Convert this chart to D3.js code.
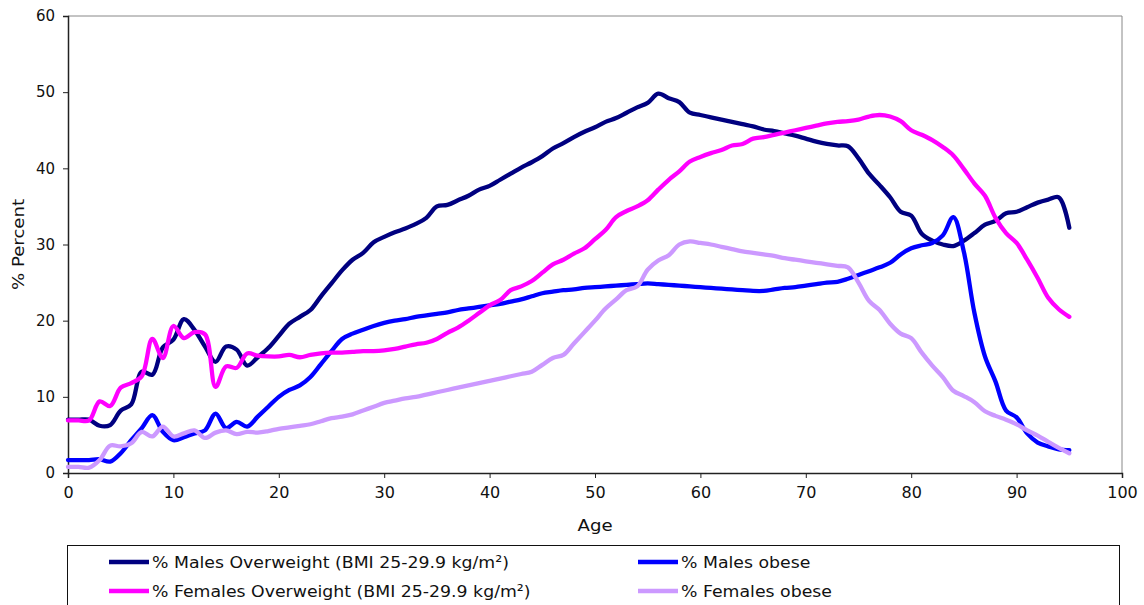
<!DOCTYPE html>
<html>
<head>
<meta charset="utf-8">
<script src="https://cdn.jsdelivr.net/npm/d3@7"></script>
<style>
body{margin:0;background:#fff;}
svg{display:block;font-family:"DejaVu Sans",Verdana,sans-serif;}
</style>
</head>
<body>
<svg id="chart" width="1144" height="605"></svg>
<script>
// ages 0..95, one value per year
var ages = d3.range(0, 96);

var malesOverweight = [7.0,7.0,7.0,6.2,6.3,8.2,9.0,13.3,12.9,16.5,17.5,20.2,18.8,16.6,14.6,16.6,16.2,14.1,15.2,16.4,
  18.0,19.6,20.5,21.4,23.2,24.9,26.6,28.0,28.9,30.3,31.0,31.6,32.1,32.7,33.5,35.0,35.2,35.8,36.4,37.2,
  37.7,38.5,39.3,40.1,40.8,41.6,42.6,43.3,44.1,44.8,45.4,46.1,46.6,47.3,48.0,48.6,49.8,49.2,48.7,47.3,
  47.0,46.7,46.4,46.1,45.8,45.5,45.1,44.9,44.6,44.3,43.9,43.5,43.2,43.0,42.9,41.3,39.3,37.8,36.2,34.3,
  33.8,31.4,30.5,30.0,29.8,30.5,31.5,32.6,33.1,34.1,34.3,34.9,35.5,35.9,36.2,32.2];

var malesObese = [1.7,1.7,1.7,1.8,1.5,2.6,4.3,5.9,7.6,5.4,4.3,4.7,5.2,5.6,7.8,5.9,6.7,6.1,7.4,8.7,
  10.0,10.9,11.5,12.6,14.3,16.0,17.6,18.3,18.8,19.3,19.7,20.0,20.2,20.5,20.7,20.9,21.1,21.4,21.6,21.8,
  22.0,22.2,22.5,22.8,23.2,23.6,23.8,24.0,24.1,24.3,24.4,24.5,24.6,24.7,24.8,24.9,24.8,24.7,24.6,24.5,
  24.4,24.3,24.2,24.1,24.0,23.9,23.9,24.1,24.3,24.4,24.6,24.8,25.0,25.1,25.5,26.0,26.5,27.0,27.6,28.7,
  29.5,29.9,30.2,31.2,33.6,29.0,21.0,15.3,12.0,8.2,7.3,5.2,4.0,3.5,3.1,3.0];

var femalesOverweight = [6.9,6.9,6.9,9.4,8.8,11.2,11.8,12.7,17.6,15.1,19.3,17.7,18.5,18.2,11.3,14.0,13.8,15.7,15.4,15.3,
  15.3,15.5,15.2,15.5,15.7,15.8,15.8,15.9,16.0,16.0,16.1,16.3,16.6,16.9,17.1,17.6,18.4,19.1,20.0,21.0,
  22.0,22.7,24.0,24.5,25.2,26.3,27.4,28.0,28.8,29.5,30.7,31.9,33.6,34.4,35.0,35.8,37.2,38.5,39.6,40.9,
  41.5,42.0,42.4,43.0,43.2,43.9,44.1,44.4,44.7,45.0,45.3,45.6,45.9,46.1,46.2,46.4,46.8,47.0,46.8,46.2,
  45.0,44.4,43.7,42.8,41.7,39.9,38.0,36.4,33.5,31.5,30.2,28.0,25.6,23.0,21.5,20.5];

var femalesObese = [0.8,0.8,0.7,1.7,3.6,3.5,3.9,5.4,4.8,6.1,4.8,5.2,5.6,4.6,5.3,5.6,5.1,5.4,5.3,5.5,
  5.8,6.0,6.2,6.4,6.8,7.2,7.4,7.7,8.2,8.7,9.2,9.5,9.8,10.0,10.3,10.6,10.9,11.2,11.5,11.8,
  12.1,12.4,12.7,13.0,13.3,14.2,15.1,15.5,17.0,18.5,20.0,21.6,22.8,24.0,24.5,26.7,27.9,28.6,30.0,30.4,
  30.2,30.0,29.7,29.4,29.1,28.9,28.7,28.5,28.2,28.0,27.8,27.6,27.4,27.2,27.0,25.0,22.6,21.4,19.6,18.3,
  17.7,15.8,14.1,12.6,10.8,10.1,9.3,8.1,7.5,7.0,6.4,5.6,4.9,4.1,3.3,2.6];

var xTicks = [0,10,20,30,40,50,60,70,80,90,100];
var yTicks = [0,10,20,30,40,50,60];

var seriesNames = ["% Males Overweight (BMI 25-29.9 kg/m\u00b2)", "% Males obese",
                   "% Females Overweight (BMI 25-29.9 kg/m\u00b2)", "% Females obese"];
var seriesValues = [malesOverweight, malesObese, femalesOverweight, femalesObese];
var seriesColors = ["#000080", "#0000ff", "#ff00ff", "#cc99ff"];

var svg = d3.select("#chart");
var mLeft = 68, mTop = 16, mRight = 1122, mBottom = 473;

var x = d3.scaleLinear().domain([0, 100]).range([mLeft, mRight]);
var y = d3.scaleLinear().domain([0, 60]).range([mBottom, mTop]);

// frame (top/right in grey)
svg.append("line").attr("x1", mLeft).attr("x2", mRight).attr("y1", mTop).attr("y2", mTop)
  .attr("stroke", "#888").attr("stroke-width", 1);
svg.append("line").attr("x1", mRight).attr("x2", mRight).attr("y1", mTop).attr("y2", mBottom)
  .attr("stroke", "#888").attr("stroke-width", 1);

var xAxis = svg.append("g").attr("transform", "translate(0," + mBottom + ")")
  .call(d3.axisBottom(x).tickValues(xTicks).tickSize(5).tickPadding(9));
var yAxis = svg.append("g").attr("transform", "translate(" + mLeft + ",0)")
  .call(d3.axisLeft(y).tickValues(yTicks).tickSize(5).tickPadding(8));

[xAxis, yAxis].forEach(function(a){
  a.select(".domain").attr("stroke", "#222").attr("stroke-width", 1.5);
  a.selectAll(".tick line").attr("stroke", "#222");
  a.selectAll(".tick text").attr("font-size", 15).attr("fill", "#111")
    .attr("font-family", "DejaVu Sans, Verdana, sans-serif");
});
xAxis.selectAll(".tick text").attr("transform", "scale(1.07,1)");

svg.append("text").attr("transform", "translate(595,531) scale(1.1,1)")
  .attr("text-anchor", "middle").attr("font-size", 16.5).attr("fill", "#111").text("Age");
svg.append("text").attr("transform", "translate(24," + ((mTop + mBottom) / 2) + ") rotate(-90) scale(1.1,1)")
  .attr("text-anchor", "middle").attr("font-size", 16.5).attr("fill", "#111").text("% Percent");

var line = d3.line()
  .x(function(d, i){ return x(ages[i]); })
  .y(function(d){ return y(d); })
  .curve(d3.curveCatmullRom.alpha(0.5));

seriesValues.forEach(function(vals, i){
  svg.append("path").datum(vals)
    .attr("d", line)
    .attr("fill", "none")
    .attr("stroke", seriesColors[i])
    .attr("stroke-width", 4.3)
    .attr("stroke-linejoin", "round")
    .attr("stroke-linecap", "round");
});

// legend
svg.append("rect").attr("x", 67.5).attr("y", 545.5).attr("width", 1052).attr("height", 80)
  .attr("fill", "#fff").attr("stroke", "#111").attr("stroke-width", 1);

var legPos = [[109, 562], [638, 562], [109, 591], [638, 591]];
seriesNames.forEach(function(name, i){
  var g = svg.append("g").attr("transform", "translate(" + legPos[i][0] + "," + legPos[i][1] + ")");
  g.append("line").attr("x1", 0).attr("x2", 40).attr("y1", 0).attr("y2", 0)
    .attr("stroke", seriesColors[i]).attr("stroke-width", 4.3);
  g.append("text").attr("transform", "translate(43,5.5) scale(1.05,1)")
    .attr("font-size", 16.5).attr("fill", "#111").text(name);
});
</script>
</body>
</html>
